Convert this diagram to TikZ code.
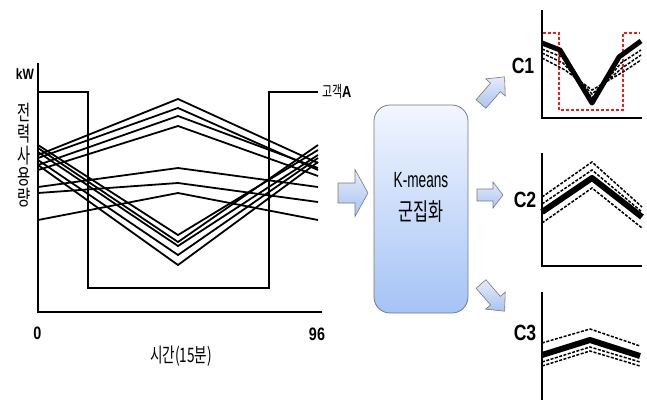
\documentclass[tikz,border=0pt]{standalone}
\usepackage{fontspec}
\setmainfont{Liberation Sans}
\newfontfamily\kr[FakeStretch=0.68]{Noto Sans CJK KR}
\newfontfamily\nb[FakeStretch=0.8]{Liberation Sans}
\newfontfamily\nr[FakeStretch=0.62]{Liberation Sans}
\usetikzlibrary{calc}
\definecolor{boxtop}{RGB}{242,246,255}
\definecolor{boxbot}{RGB}{165,195,245}
\definecolor{arrtop}{RGB}{228,236,252}
\definecolor{arrbot}{RGB}{170,195,238}
\definecolor{edgegray}{RGB}{120,120,125}
\definecolor{redd}{RGB}{235,30,30}
\tikzset{
  axisline/.style={line width=1.8pt, black},
  curve/.style={line width=1.8pt, black, line join=miter},
  blockarr/.style={draw=edgegray, line width=0.6pt, top color=arrtop, bottom color=arrbot, line join=miter},
  thickc/.style={line width=5pt, black, line join=round},
  dashc/.style={line width=1.5pt, black, dash pattern=on 3pt off 1.5pt},
  reddash/.style={line width=1.3pt, redd, dash pattern=on 3pt off 2pt},
  smallaxis/.style={line width=1.3pt, black},
  lbl/.style={inner sep=0pt, anchor=center},
}
\begin{document}
\begin{tikzpicture}[x=1pt,y=-1pt]
\useasboundingbox (0,0) rectangle (647,400);

% ---------- main chart ----------
\draw[axisline] (38,63) -- (38,312) -- (322,312);
% customer A square wave
\draw[curve] (38,92) -- (88,92) -- (88,288) -- (269,288) -- (269,92) -- (318,92);
% peak lines
\draw[curve] (38,155) -- (178,99) -- (318,163);
\draw[curve] (38,158) -- (178,108) -- (318,170);
\draw[curve] (38,165) -- (178,116) -- (318,168);
\draw[curve] (38,170) -- (178,126) -- (318,176);
\draw[curve] (38,187) -- (178,168) -- (318,187);
\draw[curve] (38,193) -- (178,183) -- (318,202);
\draw[curve] (38,220) -- (178,193) -- (318,220);
% valley lines
\draw[curve] (38,145) -- (178,235) -- (318,150);
\draw[curve] (38,148) -- (178,242) -- (318,145);
\draw[curve] (38,152) -- (178,246) -- (318,155);
\draw[curve] (38,160) -- (178,255) -- (318,158);
\draw[curve] (38,165) -- (178,265) -- (318,162);

\node[lbl] (kw) at (25,74) {\nb\bfseries\fontsize{15}{15}\selectfont kW};
\node[lbl] (v1) at (24,112) {\kr\fontsize{21}{21}\selectfont 전};
\node[lbl] (v2) at (24,134) {\kr\fontsize{21}{21}\selectfont 력};
\node[lbl] (v3) at (24,156) {\kr\fontsize{21}{21}\selectfont 사};
\node[lbl] (v4) at (24,177) {\kr\fontsize{21}{21}\selectfont 용};
\node[lbl] (v5) at (24,198) {\kr\fontsize{21}{21}\selectfont 량};
\node[lbl] (zero) at (37.5,333) {\nb\bfseries\fontsize{18}{18}\selectfont 0};
\node[lbl] (ninetysix) at (317,334) {\nb\bfseries\fontsize{18}{18}\selectfont 96};
\node[lbl] (xlab) at (181,356) {\kr\fontsize{20}{20}\selectfont 시간(15분)};
\node[lbl, anchor=west] (custA) at (322,92) {\kr\fontsize{16}{16}\selectfont 고객\nb\bfseries A};

% ---------- arrow into box ----------
\begin{scope}[shift={(338,193)}]
\draw[blockarr] (0,-10) -- (17,-10) -- (17,-23.5) -- (30,0) -- (17,23.5) -- (17,10) -- (0,10) -- cycle;
\end{scope}

% ---------- K-means box ----------
\draw[draw=edgegray, line width=0.8pt, top color=boxtop, bottom color=boxbot, rounded corners=16pt]
  (374,105) rectangle (468,313);
\node[lbl] (km1) at (421,180) {\nr\fontsize{22}{22}\selectfont K-means};
\node[lbl] (km2) at (421,212) {\kr\fontsize{24}{24}\selectfont 군집화};

% ---------- arrows to clusters ----------
\begin{scope}[shift={(481,104)}, rotate=49]
\draw[blockarr] (0,-6.5) -- (22,-6.5) -- (22,-13) -- (36,0) -- (22,13) -- (22,6.5) -- (0,6.5) -- cycle;
\end{scope}
\begin{scope}[shift={(477,195)}]
\draw[blockarr] (0,-6) -- (16,-6) -- (16,-13) -- (26,0) -- (16,13) -- (16,6) -- (0,6) -- cycle;
\end{scope}
\begin{scope}[shift={(481,284)}, rotate=-49]
\draw[blockarr] (0,-6.5) -- (22,-6.5) -- (22,-13) -- (36,0) -- (22,13) -- (22,6.5) -- (0,6.5) -- cycle;
\end{scope}

% ---------- C1 ----------
\node[lbl] (c1) at (523,66) {\nb\bfseries\fontsize{22}{22}\selectfont C1};
\draw[reddash] (543,33) -- (559,33) -- (559,110) -- (623,110) -- (623,33) -- (640,33);
\draw[dashc] (542,49) -- (562,57) -- (592,98) -- (621,63) -- (641,50);
\draw[dashc] (542,53) -- (563,63) -- (592,94) -- (622,68) -- (641,55);
\draw[dashc] (542,58) -- (565,70) -- (592,90) -- (623,72) -- (641,60);
\draw[thickc] (542,43) -- (560,50) -- (592,103) -- (619,57) -- (641,41);
\draw[smallaxis] (542,10) -- (542,118) -- (642,118);

% ---------- C2 ----------
\node[lbl] (c2) at (525,200) {\nb\bfseries\fontsize{22}{22}\selectfont C2};
\draw[dashc] (542,197) -- (592,162) -- (642,207);
\draw[dashc] (542,204) -- (592,170) -- (642,212);
\draw[dashc] (542,223) -- (592,188) -- (642,228);
\draw[thickc, line width=6pt] (542,212) -- (592,178) -- (642,217);
\draw[smallaxis] (542,153) -- (542,266) -- (642,266);

% ---------- C3 ----------
\node[lbl] (c3) at (525,333) {\nb\bfseries\fontsize{22}{22}\selectfont C3};
\draw[dashc] (542,343) -- (590,329) -- (640,346);
\draw[dashc] (542,362) -- (590,347) -- (640,362);
\draw[dashc] (542,366) -- (590,351) -- (640,366);
\draw[thickc, line width=6pt] (542,355) -- (590,340) -- (640,356);
\draw[smallaxis] (542,292) -- (542,400);
\end{tikzpicture}
\end{document}
